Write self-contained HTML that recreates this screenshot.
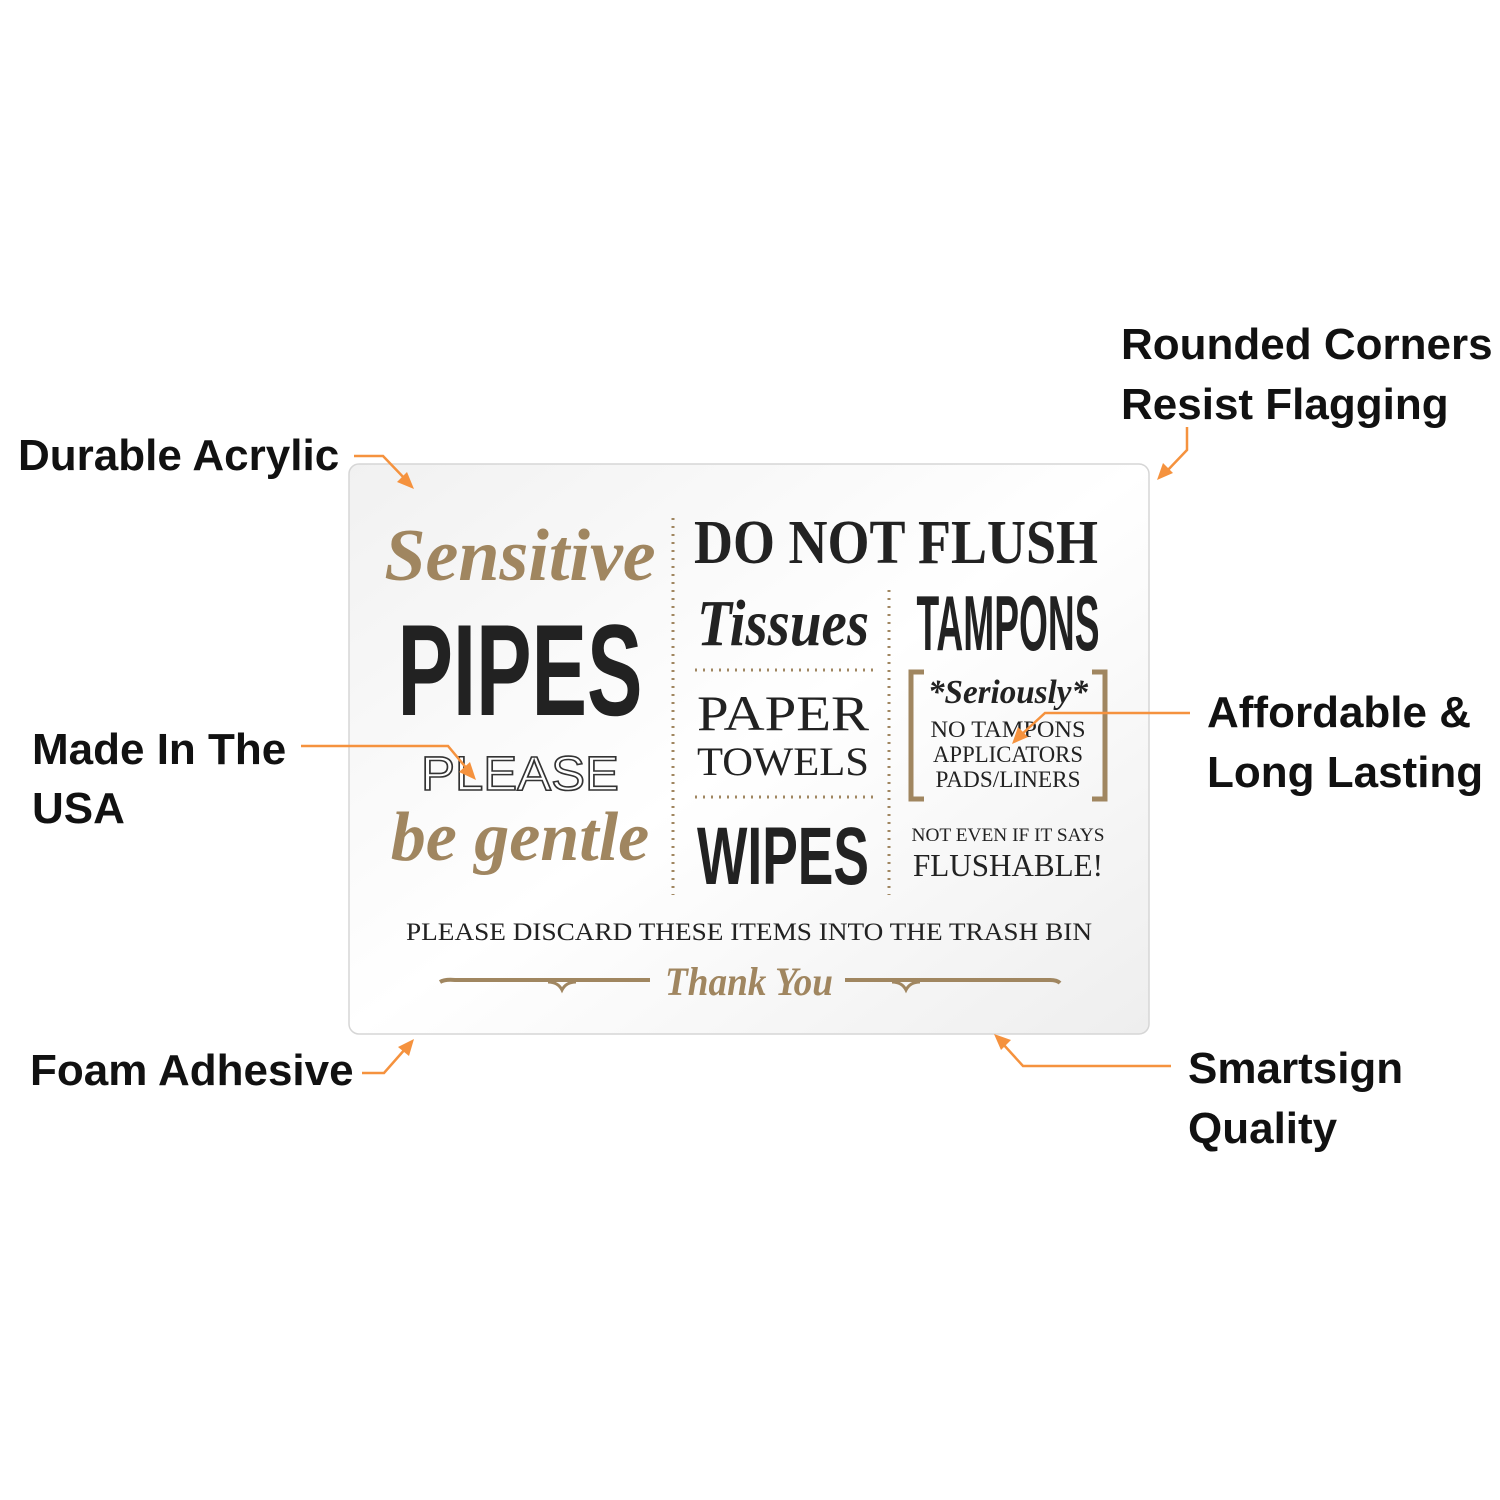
<!DOCTYPE html>
<html><head><meta charset="utf-8"><style>
html,body{margin:0;padding:0;background:#fff;}
svg{display:block}
.lab{font-family:"Liberation Sans",sans-serif;font-weight:bold;font-size:44px;fill:#111}
.ser{font-family:"Liberation Serif",serif;fill:#222}
.cond{font-family:"Liberation Sans Narrow","Liberation Sans",sans-serif;font-weight:bold;fill:#222}
.scr{font-family:"Liberation Serif",serif;font-style:italic;font-weight:bold;fill:#a08660}
.o{stroke:#f5923e;stroke-width:2.5;fill:none}
.oh{fill:#f5923e}
</style></head><body>
<svg width="1500" height="1500" viewBox="0 0 1500 1500">
<defs>
<linearGradient id="g" x1="0" y1="0" x2="1" y2="1">
<stop offset="0" stop-color="#f1f1f1"/><stop offset="0.5" stop-color="#ffffff"/><stop offset="1" stop-color="#eeeeee"/>
</linearGradient>
</defs>
<rect x="349" y="464" width="800" height="570" rx="10" fill="url(#g)" stroke="#d6d6d6" stroke-width="1.5"/>

<text x="520" y="580" text-anchor="middle" class="scr" font-size="74">Sensitive</text>
<text x="520" y="715" text-anchor="middle" class="cond" font-size="130" textLength="245" lengthAdjust="spacingAndGlyphs">PIPES</text>
<text x="520" y="790" text-anchor="middle" font-family="Liberation Sans,sans-serif" font-size="48" fill="#fff" stroke="#333" stroke-width="1.6" textLength="198" lengthAdjust="spacingAndGlyphs">PLEASE</text>
<text x="520" y="860" text-anchor="middle" class="scr" font-size="70">be gentle</text>

<g stroke="#a08660" stroke-width="3" stroke-dasharray="2 6">
<line x1="673" y1="518" x2="673" y2="895"/>
<line x1="889" y1="590" x2="889" y2="895"/>
<line x1="695" y1="670" x2="873" y2="670"/>
<line x1="695" y1="797" x2="873" y2="797"/>
</g>

<text x="896" y="563" text-anchor="middle" font-family="Liberation Serif,serif" font-weight="bold" fill="#222" font-size="62" textLength="404" lengthAdjust="spacingAndGlyphs">DO NOT FLUSH</text>
<text x="783" y="645" text-anchor="middle" class="ser" font-style="italic" font-weight="bold" font-size="66" textLength="172" lengthAdjust="spacingAndGlyphs">Tissues</text>
<text x="1008" y="650" text-anchor="middle" class="cond" font-size="78" textLength="183" lengthAdjust="spacingAndGlyphs">TAMPONS</text>
<text x="783" y="730" text-anchor="middle" class="ser" font-size="50" textLength="172" lengthAdjust="spacingAndGlyphs">PAPER</text>
<text x="783" y="775" text-anchor="middle" class="ser" font-size="40" textLength="172" lengthAdjust="spacingAndGlyphs">TOWELS</text>
<text x="783" y="884" text-anchor="middle" class="cond" font-size="82" textLength="172" lengthAdjust="spacingAndGlyphs">WIPES</text>

<path d="M924 672 H911 V799 H924" stroke="#a08660" stroke-width="5" fill="none"/>
<path d="M1092 672 H1105 V799 H1092" stroke="#a08660" stroke-width="5" fill="none"/>
<text x="1008" y="703" text-anchor="middle" class="ser" font-style="italic" font-weight="bold" font-size="34" textLength="160" lengthAdjust="spacingAndGlyphs">*<tspan fill="#222">Seriously</tspan>*</text>
<text x="1008" y="737" text-anchor="middle" class="ser" font-size="23" textLength="155" lengthAdjust="spacingAndGlyphs">NO TAMPONS</text>
<text x="1008" y="762" text-anchor="middle" class="ser" font-size="23" textLength="150" lengthAdjust="spacingAndGlyphs">APPLICATORS</text>
<text x="1008" y="787" text-anchor="middle" class="ser" font-size="23" textLength="145" lengthAdjust="spacingAndGlyphs">PADS/LINERS</text>

<text x="1008" y="841" text-anchor="middle" class="ser" font-size="19" textLength="193" lengthAdjust="spacingAndGlyphs">NOT EVEN IF IT SAYS</text>
<text x="1008" y="876" text-anchor="middle" class="ser" font-size="32" textLength="190" lengthAdjust="spacingAndGlyphs">FLUSHABLE!</text>

<text x="749" y="940" text-anchor="middle" class="ser" font-size="25" textLength="686" lengthAdjust="spacingAndGlyphs">PLEASE DISCARD THESE ITEMS INTO THE TRASH BIN</text>

<g stroke="#a08660" stroke-width="4" fill="none">
<path d="M440 982 Q445 979 455 980 H650"/>
<path d="M845 980 H1050 Q1057 980 1060 983"/>
<path d="M548 982 q10 0 14 8 q4 -8 14 -8" stroke-width="3"/>
<path d="M892 982 q10 0 14 8 q4 -8 14 -8" stroke-width="3"/>
</g>
<text x="749" y="995" text-anchor="middle" class="scr" font-size="40" textLength="168" lengthAdjust="spacingAndGlyphs">Thank You</text>

<text x="18" y="470" class="lab">Durable Acrylic</text>
<text x="1121" y="359" class="lab">Rounded Corners</text>
<text x="1121" y="419" class="lab">Resist Flagging</text>
<text x="32" y="764" class="lab">Made In The</text>
<text x="32" y="823" class="lab">USA</text>
<text x="1207" y="727" class="lab">Affordable &amp;</text>
<text x="1207" y="787" class="lab">Long Lasting</text>
<text x="30" y="1085" class="lab">Foam Adhesive</text>
<text x="1188" y="1083" class="lab">Smartsign</text>
<text x="1188" y="1143" class="lab">Quality</text>

<path class="o" d="M354 456 H383 L407 481"/>
<path class="oh" d="M414 489 L397 482 L407 472 Z"/>
<path class="o" d="M1187 427 V450 L1166 472"/>
<path class="oh" d="M1157 480 L1163 463 L1173 473 Z"/>
<path class="o" d="M301 746 H448 L468 770"/>
<path class="oh" d="M476 780 L459 772 L470 762 Z"/>
<path class="o" d="M1190 713 H1045 L1021 735"/>
<path class="oh" d="M1012 744 L1018 727 L1028 737 Z"/>
<path class="o" d="M362 1073 H384 L406 1048"/>
<path class="oh" d="M414 1039 L409 1056 L398 1047 Z"/>
<path class="o" d="M1171 1066 H1023 L1003 1044"/>
<path class="oh" d="M994 1034 L1011 1040 L1001 1050 Z"/>
</svg>
</body></html>
